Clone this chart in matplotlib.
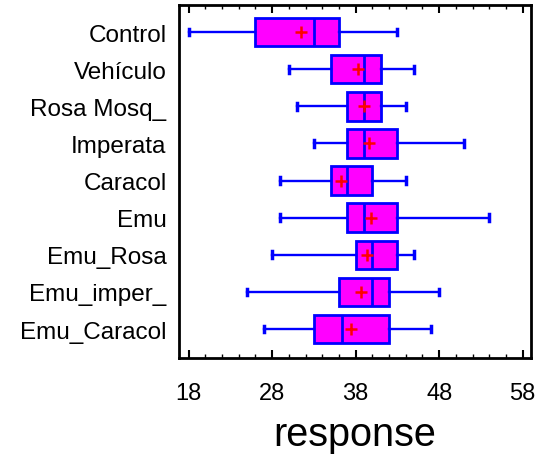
import matplotlib
matplotlib.use("Agg")
import matplotlib.pyplot as plt
from matplotlib.ticker import MultipleLocator

# values (response units)
groups = ["Control", "Vehículo", "Rosa Mosq_", "Imperata", "Caracol",
          "Emu", "Emu_Rosa", "Emu_imper_", "Emu_Caracol"]
whisker_lo = [18, 30, 31, 33, 29, 29, 28, 25, 27]
q1 = [26, 35, 37, 37, 35, 37, 38, 36, 33]
medians = [33, 39, 39, 39, 37, 39, 40, 40, 36.4]
q3 = [36, 41, 41, 43, 40, 43, 43, 42, 42]
whisker_hi = [43, 45, 44, 51, 44, 54, 45, 48, 47]
means = [31.5, 38.3, 39.0, 39.6, 36.3, 39.8, 39.3, 38.6, 37.4]

stats = []
for i, g in enumerate(groups):
    stats.append({"label": g, "whislo": whisker_lo[i], "q1": q1[i],
                  "med": medians[i], "q3": q3[i], "whishi": whisker_hi[i],
                  "mean": means[i], "fliers": []})

plt.rcParams["font.family"] = ["Liberation Sans", "DejaVu Sans"]

fig = plt.figure(figsize=(5.35, 4.6), dpi=100)
ax = fig.add_axes([0.3346, 0.2196, 0.658, 0.7674])

positions = list(range(1, len(groups) + 1))
ax.bxp(stats, positions=positions, vert=False, widths=0.77,
       patch_artist=True, showmeans=True,
       boxprops=dict(facecolor="#FF00FF", edgecolor="#0000FF", linewidth=2),
       medianprops=dict(color="#0000FF", linewidth=2),
       whiskerprops=dict(color="#0000FF", linewidth=1.7),
       capprops=dict(color="#0000FF", linewidth=2.5),
       capwidths=0.18,
       meanprops=dict(marker="+", markeredgecolor="#FF0000",
                      markersize=8, markeredgewidth=1.8))

ax.set_xlim(16.85, 59)
ax.set_ylim(9.78, 0.27)
ax.set_yticks(positions)
ax.set_yticklabels(groups, fontsize=17.5)
ax.xaxis.set_major_locator(MultipleLocator(10))
ax.xaxis.set_minor_locator(MultipleLocator(2))
ax.set_xticks([18, 28, 38, 48, 58])
ax.tick_params(axis="x", which="major", direction="in", length=6, width=1.5,
               top=True, labelsize=17, pad=17)
ax.tick_params(axis="x", which="minor", direction="in", length=3, width=1,
               top=True)
ax.tick_params(axis="y", length=0, pad=9)
for s in ax.spines.values():
    s.set_linewidth(2)

ax.set_xlabel("response", fontsize=28.5, labelpad=8)

fig.savefig("out.png", dpi=100)
plt.close(fig)
